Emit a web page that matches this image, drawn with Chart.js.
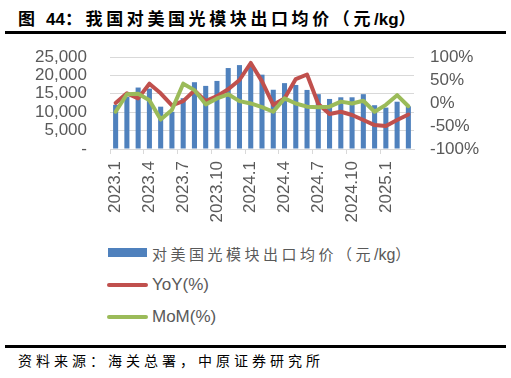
<!DOCTYPE html>
<html>
<head>
<meta charset="utf-8">
<script src="https://cdn.jsdelivr.net/npm/chart.js@4.4.1/dist/chart.umd.min.js"></script>
<style>
  html, body { margin: 0; padding: 0; background: #fff; }
  #wrap { position: relative; width: 511px; height: 378px; overflow: hidden; background: #fff; }
  #title { position: absolute; left: 18px; top: 5px; font: bold 17px "Noto Sans CJK SC", "Liberation Sans", sans-serif; letter-spacing: 3.6px; color: #000; white-space: nowrap; }
  .asc { letter-spacing: 0; font-family: "Liberation Sans", Arial, sans-serif; }
  .rule { position: absolute; left: 5px; width: 501px; height: 3px; background: #000; }
  #source { position: absolute; left: 18px; top: 350px; font: 14px "Noto Sans CJK SC", sans-serif; letter-spacing: 4px; color: #000; white-space: nowrap; }
  #cv { position: absolute; left: 0; top: 0; }
  .lg { position: absolute; white-space: nowrap; color: #595959; }
  .sw { position: absolute; }
</style>
</head>
<body>
<div id="wrap">
  <div id="title">图 <span class="asc">44</span>：我国对美国光模块出口均价（元<span class="asc">/kg</span>）</div>
  <div class="rule" style="top:31px"></div>
  <canvas id="cv" width="511" height="240"></canvas>
  <div class="sw" style="left:108px;top:248px;width:39px;height:9px;background:#4f81bd"></div>
  <div class="lg" style="left:152px;top:243px;font:15px 'Noto Sans CJK SC',sans-serif;letter-spacing:3.5px;line-height:22px">对美国光模块出口均价（元<span style="letter-spacing:0;font:16px 'Liberation Sans',Arial,sans-serif">/kg</span>）</div>
  <div class="sw" style="left:107px;top:283px;width:41px;height:4px;border-radius:2px;background:#c0504d"></div>
  <div class="lg" style="left:152px;top:274px;font:17px 'Liberation Sans',Arial,sans-serif;line-height:22px">YoY(%)</div>
  <div class="sw" style="left:107px;top:315px;width:41px;height:4px;border-radius:2px;background:#9bbb59"></div>
  <div class="lg" style="left:152px;top:306px;font:17px 'Liberation Sans',Arial,sans-serif;line-height:22px">MoM(%)</div>
  <div class="rule" style="top:345px"></div>
  <div id="source">资料来源：海关总署，中原证券研究所</div>
</div>
<script>
const categories = ['2023.1','2023.2','2023.3','2023.4','2023.5','2023.6','2023.7','2023.8','2023.9','2023.10','2023.11','2023.12',
  '2024.1','2024.2','2024.3','2024.4','2024.5','2024.6','2024.7','2024.8','2024.9','2024.10','2024.11','2024.12',
  '2025.1','2025.2','2025.3'];
const priceValues = [12000,14200,16700,16400,11500,10100,13800,18150,17150,18500,22000,22800,
  22300,20200,16100,17900,17400,16050,14900,13600,14050,14050,14900,11900,11250,12850,11600];
const yoyValues = [0,21,10,42,21,-5,4,27,4,15,30,50,87,47,-4,10,52,62,-2,-24,-19,-26,-37,-48,-50,-37,-25];
const momValues = [-19,19,20,6,-36,-15,42,28,-3,10,19,4,-1,-9,-19,10,-1,-8,-9,-8,3,-1,5,-19,-4,17,-7];
const leftTicks = [0,5000,10000,15000,20000,25000];
const rightTicks = [-100,-50,0,50,100];

const gray = '#595959';
const gridGray = '#d9d9d9';
const tickFont = { family: "'Liberation Sans', Arial, sans-serif", size: 17 };

new Chart(document.getElementById('cv'), {
  data: {
    labels: categories,
    datasets: [
      { type: 'line', label: 'MoM(%)', data: momValues, yAxisID: 'y1', borderColor: '#9bbb59', borderWidth: 4,
        pointRadius: 0, tension: 0, order: 1, borderJoinStyle: 'round', borderCapStyle: 'round' },
      { type: 'line', label: 'YoY(%)', data: yoyValues, yAxisID: 'y1', borderColor: '#c0504d', borderWidth: 4,
        pointRadius: 0, tension: 0, order: 2, borderJoinStyle: 'round', borderCapStyle: 'round' },
      { type: 'bar', label: '对美国光模块出口均价（元/kg）', data: priceValues, yAxisID: 'y', backgroundColor: '#4f81bd',
        categoryPercentage: 0.9, barPercentage: 0.5, order: 3 }
    ]
  },
  options: {
    responsive: false,
    animation: false,
    layout: { padding: { top: 57, bottom: 0, left: 0, right: 0 } },
    plugins: { legend: { display: false }, tooltip: { enabled: false } },
    scales: {
      x: {
        offset: true,
        grid: {
          offset: true,
          drawOnChartArea: false,
          drawTicks: true,
          tickLength: 5,
          color: (ctx) => (ctx.index % 3 === 0 ? gridGray : 'rgba(0,0,0,0)')
        },
        border: { display: true, color: gridGray, width: 1 },
        ticks: {
          autoSkip: false, minRotation: 90, maxRotation: 90, padding: 7,
          color: gray, font: tickFont,
          callback: function (v, i) { return i % 3 === 0 ? this.getLabelForValue(v) : ''; }
        },
        afterFit: (s) => { s.height = 240 - 149; }
      },
      y: {
        position: 'left', min: 0, max: 25000,
        afterBuildTicks: (s) => { s.ticks = leftTicks.map(v => ({ value: v })); },
        grid: { color: gridGray, drawTicks: false },
        border: { display: false },
        ticks: {
          autoSkip: false, padding: 23, color: gray, font: tickFont,
          callback: (v) => (v === 0 ? '-' : v.toLocaleString('en-US'))
        },
        afterFit: (s) => { s.width = 110; }
      },
      y1: {
        position: 'right', min: -100, max: 100,
        afterBuildTicks: (s) => { s.ticks = rightTicks.map(v => ({ value: v })); },
        grid: { drawOnChartArea: false, drawTicks: false },
        border: { display: false },
        ticks: { autoSkip: false, padding: 16, color: gray, font: tickFont, callback: (v) => v + '%' },
        afterFit: (s) => { s.width = 511 - 414; }
      }
    }
  }
});
</script>
</body>
</html>
